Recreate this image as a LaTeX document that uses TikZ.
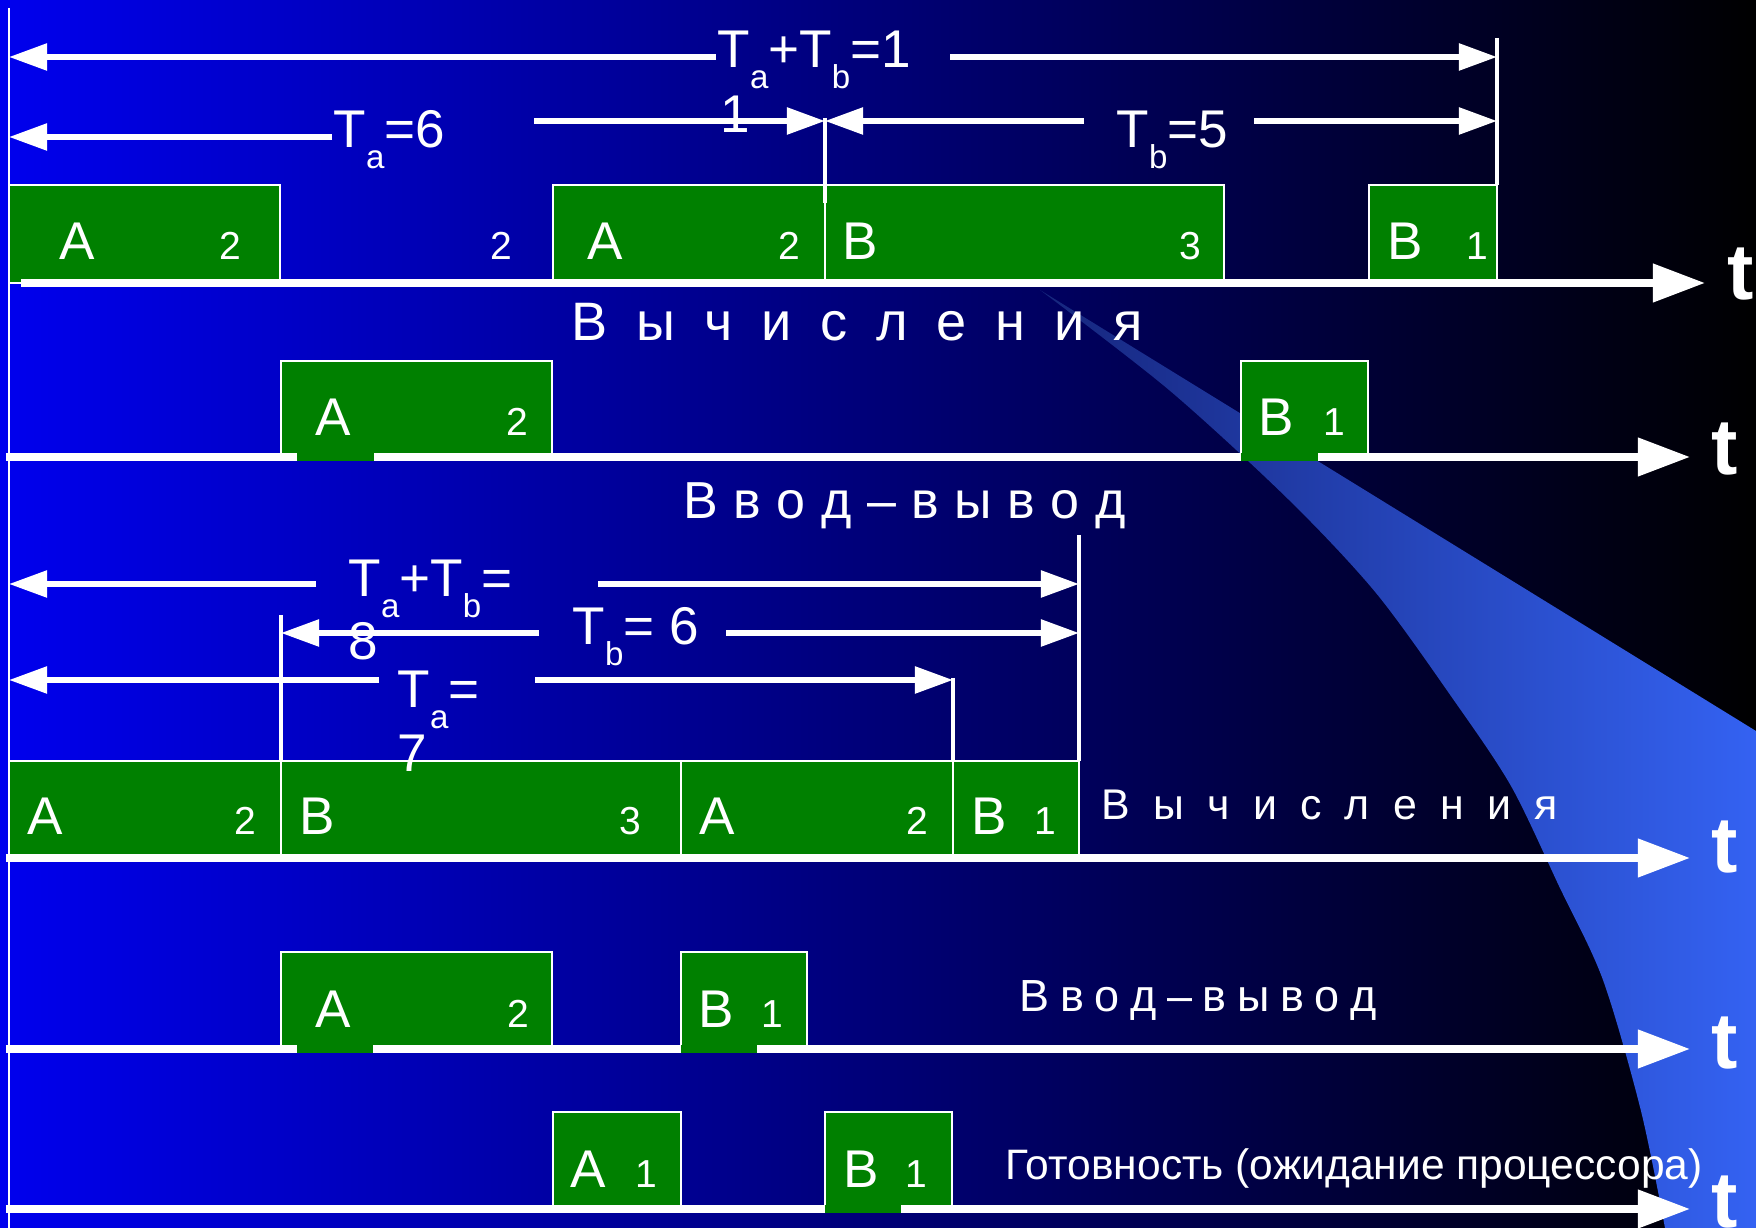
\documentclass[tikz,border=0pt]{standalone}
\usepackage{fontspec}
\setmainfont{Liberation Sans}
\usetikzlibrary{arrows.meta}

\definecolor{bgleft}{RGB}{0,0,238}
\definecolor{taskgreen}{RGB}{0,128,0}
\definecolor{swooshL}{RGB}{22,38,125}
\definecolor{swooshR}{RGB}{52,98,242}

% lowered small index, as in T_a
\newcommand{\lo}[1]{\raisebox{-5.7pt}{\fontsize{9.4}{10}\selectfont #1}}

\begin{document}
\begin{tikzpicture}[x=0.01cm, y=-0.01cm,
	task/.style={draw=white, line width=0.45pt, fill=taskgreen},
	patch/.style={fill=taskgreen},
	timeaxis/.style={white, line width=2.1pt, -{Triangle[length=0.52cm, width=0.37cm]}},
	dimline/.style={white, line width=1.55pt, -{Triangle[length=0.38cm, width=0.26cm]}},
	tick/.style={white, line width=1pt},
	letter/.style={text=white, inner sep=0pt, anchor=base, font=\fontsize{15.1}{18}\selectfont},
	num/.style={text=white, inner sep=0pt, anchor=base, font=\fontsize{11.1}{13}\selectfont},
	tlbl/.style={text=white, inner sep=0pt, anchor=base west, font=\fontsize{22.5}{26}\selectfont\bfseries},
	dlbl/.style={text=white, inner sep=0pt, anchor=base west, font=\fontsize{15.1}{18}\selectfont},
	rowlbl/.style={text=white, inner sep=0pt, anchor=base west, font=\fontsize{#1}{#1}\selectfont},
	wide/.style={execute at begin node={\spaceskip=#1\relax}},
	]
	\useasboundingbox (0,0) rectangle (1756,1228);

	% background and the light swoosh
	\shade[left color=bgleft, right color=black] (0,0) rectangle (1756,1228);
	\shade[left color=swooshL, right color=swooshR]
		(1040,290) -- (1756,731) -- (1756,1228) -- plot[smooth] coordinates {(1665,1228) (1641,1111) (1603,980) (1559,886)
		(1511,786) (1453,699) (1376,593) (1289,500) (1169,390) (1040,290)} -- cycle;
	\draw[white, line width=0.7pt] (9,8) -- (9,1228);

	% sequential run: boxes
	\draw[task] (9,185) rectangle (280,283);
	\draw[task] (553,185) rectangle (825,283);
	\draw[task] (825,185) rectangle (1224,283);
	\draw[task] (1369,185) rectangle (1497,283);
	\draw[task] (281,361) rectangle (552,457);
	\draw[task] (1241,361) rectangle (1368,457);

	% interleaved run: boxes
	\draw[task] (9,761) rectangle (281,858);
	\draw[task] (281,761) rectangle (681,858);
	\draw[task] (681,761) rectangle (953,858);
	\draw[task] (953,761) rectangle (1079,858);
	\draw[task] (281,952) rectangle (552,1049);
	\draw[task] (681,952) rectangle (807,1049);
	\draw[task] (553,1112) rectangle (681,1209);
	\draw[task] (825,1112) rectangle (952,1209);

	% time axes
	\draw[timeaxis] (21,283) -- (1705,283);
	\draw[timeaxis] (6,457) -- (1690,457);
	\draw[timeaxis] (6,858) -- (1690,858);
	\draw[timeaxis] (6,1049) -- (1690,1049);
	\draw[timeaxis] (6,1209) -- (1690,1209);
	\fill[patch] (297,453) rectangle (374,461);
	\fill[patch] (1241,453) rectangle (1318,461);
	\fill[patch] (297,1045) rectangle (373,1053);
	\fill[patch] (681,1045) rectangle (757,1053);
	\fill[patch] (825,1205) rectangle (901,1213);

	\node[tlbl] (t1) at (1727,300) {t};
	\node[tlbl] (t2) at (1711,475) {t};
	\node[tlbl] (t3) at (1711,873) {t};
	\node[tlbl] (t4) at (1711,1069) {t};
	\node[tlbl] (t5) at (1711,1228) {t};

	% box texts
	\node[letter] (a1) at (77,260) {A};   \node[num] (a1n) at (230,260) {2};
	\node[num] (gap1n) at (501,260) {2};
	\node[letter] (a2) at (605,260) {A};  \node[num] (a2n) at (789,260) {2};
	\node[letter] (b1) at (860,260) {B};  \node[num] (b1n) at (1190,260) {3};
	\node[letter] (b2) at (1405,260) {B}; \node[num] (b2n) at (1477,260) {1};
	\node[letter] (io1a) at (333,436) {A};  \node[num] (io1an) at (517,436) {2};
	\node[letter] (io1b) at (1276,436) {B}; \node[num] (io1bn) at (1334,436) {1};

	\node[letter] (c1) at (45,835) {A};   \node[num] (c1n) at (245,835) {2};
	\node[letter] (c2) at (317,835) {B};  \node[num] (c2n) at (630,835) {3};
	\node[letter] (c3) at (717,835) {A};  \node[num] (c3n) at (917,835) {2};
	\node[letter] (c4) at (989,835) {B};  \node[num] (c4n) at (1045,835) {1};
	\node[letter] (io2a) at (333,1028) {A}; \node[num] (io2an) at (518,1028) {2};
	\node[letter] (io2b) at (716,1028) {B}; \node[num] (io2bn) at (772,1028) {1};
	\node[letter] (w1) at (588,1188) {A};   \node[num] (w1n) at (646,1188) {1};
	\node[letter] (w2) at (861,1188) {B};   \node[num] (w2n) at (916,1188) {1};

	% row captions
	\node[rowlbl=15.4, wide=8.2pt] (calc1) at (571,341) {В ы ч и с л е н и я};
	\node[rowlbl=14.8, wide=4.4pt] (io1) at (683,519) {В в о д – в ы в о д};
	\node[rowlbl=12.2, wide=6.6pt] (calc2) at (1101,820) {В ы ч и с л е н и я};
	\node[rowlbl=12.8, wide=3pt] (io2) at (1019,1012) {В в о д – в ы в о д};
	\node[rowlbl=12.1] (ready) at (1005,1180) {Готовность (ожидание процессора)};

	% durations, sequential run
	\node[dlbl] (sum1) at (717,68) {T\lo{a}+T\lo{b}=1};
	\node[dlbl] (sum1b) at (720,133) {1};
	\node[dlbl] (ta1) at (333,148) {T\lo{a}=6};
	\node[dlbl] (tb1) at (1116,148) {T\lo{b}=5};
	\coordinate (s1l) at (716,57);  \coordinate (s1r) at (950,57);
	\coordinate (s1e) at (9,57);    \coordinate (s1f) at (1497,57);
	\coordinate (a1l) at (332,137); \coordinate (a1e) at (9,137);
	\coordinate (a1r) at (534,121); \coordinate (mid1) at (825,121);
	\coordinate (b1l) at (1084,121); \coordinate (b1r) at (1254,121);
	\coordinate (b1f) at (1497,121);
	\draw[dimline] (s1l) -- (s1e);
	\draw[dimline] (s1r) -- (s1f);
	\draw[dimline] (a1l) -- (a1e);
	\draw[dimline] (a1r) -- (mid1);
	\draw[dimline] (b1l) -- (mid1);
	\draw[dimline] (b1r) -- (b1f);
	\draw[tick] (1497,38) -- (1497,185);
	\draw[tick] (825,118) -- (825,203);

	% durations, interleaved run
	\node[dlbl] (sum2) at (348,597) {T\lo{a}+T\lo{b}=};
	\node[dlbl] (sum2b) at (348,660) {8};
	\node[dlbl] (tb2) at (572,645) {T\lo{b}= 6};
	\node[dlbl] (ta2) at (397,708) {T\lo{a}=};
	\node[dlbl] (ta2b) at (397,772) {7};
	\coordinate (s2l) at (316,584); \coordinate (s2e) at (9,584);
	\coordinate (s2r) at (598,584); \coordinate (s2f) at (1079,584);
	\coordinate (b2l) at (539,633); \coordinate (b2e) at (281,633);
	\coordinate (b2r) at (726,633); \coordinate (b2f) at (1079,633);
	\coordinate (a2l) at (379,680); \coordinate (a2e) at (9,680);
	\coordinate (a2r) at (535,680); \coordinate (a2f) at (953,680);
	\draw[dimline] (s2l) -- (s2e);
	\draw[dimline] (s2r) -- (s2f);
	\draw[dimline] (b2l) -- (b2e);
	\draw[dimline] (b2r) -- (b2f);
	\draw[dimline] (a2l) -- (a2e);
	\draw[dimline] (a2r) -- (a2f);
	\draw[tick] (1079,535) -- (1079,761);
	\draw[tick] (281,615) -- (281,761);
	\draw[tick] (953,678) -- (953,761);
\end{tikzpicture}
\end{document}
